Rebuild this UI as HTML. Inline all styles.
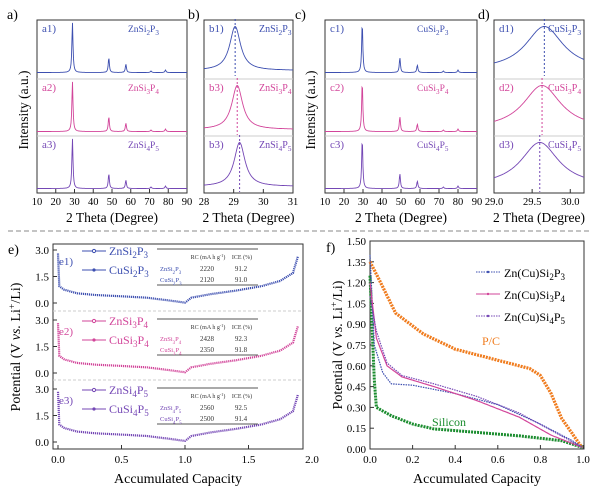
<!DOCTYPE html><html><head><meta charset="utf-8"><style>
body{margin:0;background:#fff}svg{display:block;font-family:"Liberation Serif",serif}
</style></head><body>
<svg id="s" width="600" height="491" viewBox="0 0 600 491"></svg>
<script>
// ---- data ----
const xrdPeaks=[28.9,48.3,57.4,70.8,78.5];
const xrdHeights=[1.0,0.3,0.17,0.03,0.05];
const cuPeaks=[29.6,49.4,58.6,72.3,80.0];
const cuHeights=[1.0,0.3,0.15,0.03,0.05];
const bCenters=[29.05,29.12,29.2];
const dCenters=[29.66,29.63,29.6];
const eCharge=[[0,2.8],[0.01,0.95],[0.05,0.75],[0.15,0.55],[0.3,0.45],[0.5,0.38],[0.7,0.3],[0.9,0.12],[1.0,0.02],[1.05,0.3],[1.2,0.5],[1.4,0.7],[1.6,0.95],[1.75,1.25],[1.85,1.7],[1.9,2.9]];
const fSi2=[[0,1.4],[0.02,0.75],[0.06,0.55],[0.1,0.47],[0.2,0.46],[0.4,0.4],[0.6,0.32],[0.8,0.18],[0.95,0.06],[1,0.01]];
const fSi3=[[0,1.2],[0.03,0.8],[0.08,0.6],[0.15,0.52],[0.3,0.45],[0.5,0.35],[0.7,0.23],[0.85,0.1],[1,0.01]];
const fSi4=[[0,1.1],[0.03,0.85],[0.08,0.62],[0.15,0.53],[0.3,0.47],[0.5,0.38],[0.7,0.26],[0.88,0.11],[1,0.01]];
const fPC=[[0,1.35],[0.05,1.2],[0.12,0.98],[0.25,0.83],[0.4,0.72],[0.55,0.66],[0.65,0.62],[0.75,0.58],[0.8,0.53],[0.85,0.4],[0.9,0.22],[1,0.0]];
const fSilicon=[[0,1.25],[0.02,0.5],[0.03,0.3],[0.1,0.24],[0.2,0.18],[0.3,0.145],[0.5,0.12],[0.7,0.095],[0.9,0.06],[1,0.01]];
const fTicks=["0.00","0.15","0.30","0.45","0.60","0.75","0.90","1.05","1.20","1.35","1.50"];
const C={b:"#3d4fb0",p:"#d2459a",v:"#7447b5",o:"#f07c1e",g:"#1a8c2e"};
// ---- helpers ----
const S=document.getElementById('s');const NS="http://www.w3.org/2000/svg";
function el(t,a,txt){const e=document.createElementNS(NS,t);for(const k in a)e.setAttribute(k,a[k]);if(txt!=null)e.innerHTML=txt;S.appendChild(e);return e;}
function tx(x,y,s,sz,anc,col,name){const e=el('text',{x:x,y:y,'font-size':sz,'text-anchor':anc||'middle',fill:col||'#000'},s);return e;}
function box(x0,y0,x1,y1,name){const e=el('rect',{x:x0,y:y0,width:x1-x0,height:y1-y0,fill:'none',stroke:'#333','stroke-width':1});}
function line(x0,y0,x1,y1,st,dash,name,w){const e=el('line',{x1:x0,y1:y0,x2:x1,y2:y1,stroke:st,'stroke-width':w||1,'stroke-dasharray':dash||''});}
function path(pts,col,w,name,dash){const d=pts.map((p,i)=>(i?'L':'M')+p[0].toFixed(1)+','+p[1].toFixed(1)).join('');const e=el('path',{d:d,fill:'none',stroke:col,'stroke-width':w,'stroke-dasharray':dash||''});}
function interp(arr,x){for(let i=1;i<arr.length;i++){if(x<=arr[i][0]){const a=arr[i-1],b=arr[i];return a[1]+(b[1]-a[1])*(x-a[0])/(b[0]-a[0]);}}return arr[arr.length-1][1];}
function xrd(x0,x1,d0,d1,peaks,hts,w,yb,yh,col,name){const pts=[];for(let px=x0;px<=x1;px+=0.5){const d=d0+(d1-d0)*(px-x0)/(x1-x0);let v=0.03;peaks.forEach((c,i)=>{v+=hts[i]/(1+((d-c)/w)**2);});pts.push([px,yb-v*yh]);}path(pts,col,0.9,name);}
function sub(s){let out='',sh=0;for(const c of s){const dg=/\d/.test(c);if(dg&&!sh){out+='<tspan dy="3" font-size="75%">'+c+'</tspan>';sh=1;}else if(dg){out+='<tspan font-size="75%">'+c+'</tspan>';}else if(sh){out+='<tspan dy="-3">'+c+'</tspan>';sh=0;}else out+=c;}return out;}
// ---- top XRD panels ----
function xrdPanel(x0,x1,d0,d1,ticks,tickLab,lab,names,mk,peaks,hts,w,narrow,centers,nameX){
 box(x0,20,x1,193,'panel-'+mk+'-frame');
 const sx=d=>x0+(x1-x0)*(d-d0)/(d1-d0);
 ticks.forEach((t,i)=>{line(sx(t),193,sx(t),189,'#333','','x-tick');tx(sx(t),205,tickLab[i],10.5,'middle','#000','x-tick-label');});
 tx((x0+x1)/2,222,'2 Theta (Degree)',13.5,'middle','#000','x-axis-title');
 tx(x0-(narrow?16:30),19,lab+')',14,'start','#000','panel-label');
 line(x0,79,x1,79,'#ccc','','separator');line(x0,136,x1,136,'#ccc','','separator');
 const cols=[C.b,C.p,C.v];const bases=[74,133,190];
 cols.forEach((c,i)=>{
  if(narrow){const pts=[];for(let px=x0;px<=x1;px+=0.5){const d=d0+(d1-d0)*(px-x0)/(x1-x0);const v=0.08+1/(1+((d-centers[i])/w)**2);pts.push([px,bases[i]-v*44]);}path(pts,c,0.9,'xrd-zoom-curve-'+(i+1));line(sx(centers[i]),bases[i]-55,sx(centers[i]),bases[i]+2,c,'2,2','peak-marker');}
  else xrd(x0,x1,d0,d1,peaks,hts,0.35,bases[i],50,c,'xrd-curve-'+(i+1));
  tx(x0+5,bases[i]-42,names[i][0],11,'start',c,'subpanel-label');
  tx(nameX,bases[i]-42,sub(names[i][1]),narrow?10:9.5,'start',c,'compound-name');
 });
}
xrdPanel(37,187,10,90,[10,20,30,40,50,60,70,80,90],['10','20','30','40','50','60','70','80','90'],'a',[['a1)','ZnSi2P3'],['a2)','ZnSi3P4'],['a3)','ZnSi4P5']],'a',xrdPeaks,xrdHeights,0.35,false,null,128);
xrdPanel(204,293,28,31,[28,29,30,31],['28','29','30','31'],'b',[['b1)','ZnSi2P3'],['b3)','ZnSi3P4'],['b3)','ZnSi4P5']],'b',null,null,0.22,true,bCenters,259);
xrdPanel(325,477,10,90,[10,20,30,40,50,60,70,80,90],['10','20','30','40','50','60','70','80','90'],'c',[['c1)','CuSi2P3'],['c2)','CuSi3P4'],['c3)','CuSi4P5']],'c',cuPeaks,cuHeights,0.35,false,null,417);
xrdPanel(494,584,29,30.18,[29,29.5,30],['29.0','29.5','30.0'],'d',[['d1)','CuSi2P3'],['d2)','CuSi3P4'],['d3)','CuSi4P5']],'d',null,null,0.3,true,dCenters,548);
let t=tx(0,0,'Intensity (a.u.)',13.5,'middle','#000','y-axis-title-a');t.setAttribute('transform','translate(28,110) rotate(-90)');
t=tx(0,0,'Intensity (a.u.)',13.5,'middle','#000','y-axis-title-c');t.setAttribute('transform','translate(315,110) rotate(-90)');
line(8,231,592,231,'#888','5,3','panel-divider');
// ---- panel e ----
box(53,244,303,449,'panel-e-frame');
const ex=v=>58+127*v;
[0,0.5,1,1.5,2].forEach(v=>{if(ex(v)<303)line(ex(v),449,ex(v),445,'#333','','x-tick');tx(ex(v),463,v.toFixed(1),11,'middle','#000','x-tick-label');});
tx(178,483,'Accumulated Capacity',14,'middle','#000','x-axis-title');
t=tx(0,0,'Potential (V <tspan font-style="italic">vs.</tspan> Li<tspan dy="-5" font-size="70%">+</tspan><tspan dy="5">/Li)</tspan>',14,'middle','#000','y-axis-title-e');t.setAttribute('transform','translate(20,347) rotate(-90)');
tx(8,254,'e)',14,'start','#000','panel-label');
line(53,311,303,311,'#ccc','3,2','separator');line(53,380,303,380,'#ccc','3,2','separator');
const eTop=[250,320,389];const ecol=[C.b,C.p,C.v];
const eNames=[['ZnSi2P3','CuSi2P3'],['ZnSi3P4','CuSi3P4'],['ZnSi4P5','CuSi4P5']];
const eRC=[[2220,2120],[2428,2350],[2560,2500]];const eICE=[['91.2','91.0'],['92.3','91.8'],['92.5','91.4']];
eTop.forEach((yt,i)=>{const sy=v=>yt+53*(3-v)/3;const c=ecol[i];
 [0,1.5,3].forEach(v=>{tx(49,sy(v)+4,v.toFixed(1),11,'end','#000','y-tick-label');line(53,sy(v),57,sy(v),'#333','','y-tick');});
 const pts=[];for(let x=0;x<=1.9;x+=0.01)pts.push([ex(x),sy(interp(eCharge,x)+(i*0.02))]);
 path(pts,c,2.2,'charge-curve-e'+(i+1),'1.2,0.8');
 tx(59,yt+15,'e'+(i+1)+')',11,'start',c,'subpanel-label');
 line(82,yt+1,106,yt+1,c,'','legend-line');el('circle',{cx:94,cy:yt+1,r:1.6,fill:'#fff',stroke:c});
 line(82,yt+20,106,yt+20,c,'','legend-line');el('circle',{cx:94,cy:yt+20,r:1.6,fill:c});
 tx(109,yt+5,sub(eNames[i][0]),12,'start',c,'legend-entry');tx(109,yt+24,sub(eNames[i][1]),12,'start',c,'legend-entry');
 line(157,yt-1,258,yt-1,'#555','','table-rule');line(157,yt+35,258,yt+35,'#555','','table-rule');
 tx(208,yt+9,'RC (mA h g<tspan dy="-2" font-size="70%">-1</tspan><tspan dy="2">)</tspan>',6,'middle','#333','table-header');tx(242,yt+9,'ICE (%)',6,'middle','#333','table-header');
 [0,1].forEach(r=>{tx(160,yt+21+r*11,sub(eNames[i][r]),6.5,'start',c,'table-cell');tx(207,yt+21+r*11,String(eRC[i][r]),7,'middle','#333','table-cell');tx(241,yt+21+r*11,eICE[i][r],7,'middle','#333','table-cell');});
});
// ---- panel f ----
box(370,241,584,449,'panel-f-frame');
const fx=v=>370+213*v, fy=v=>449-v*(208/1.5);
fTicks.forEach(s=>{const v=parseFloat(s);line(370,fy(v),374,fy(v),'#333','','y-tick');tx(366,fy(v)+4,s,11,'end','#000','y-tick-label');});
[0,0.2,0.4,0.6,0.8,1.0].forEach(v=>{line(fx(v),449,fx(v),445,'#333','','x-tick');tx(fx(v),463,v.toFixed(1),11,'middle','#000','x-tick-label');});
tx(477,483,'Accumulated Capacity',14,'middle','#000','x-axis-title');
t=tx(0,0,'Potential (V <tspan font-style="italic">vs.</tspan> Li<tspan dy="-5" font-size="70%">+</tspan><tspan dy="5">/Li)</tspan>',14,'middle','#000','y-axis-title-f');t.setAttribute('transform','translate(342,345) rotate(-90)');
tx(326,252,'f)',14,'start','#000','panel-label');
function fCurve(arr,col,w,name,dash){const pts=[];for(let x=0;x<=1;x+=0.005)pts.push([fx(x),fy(interp(arr,x))]);path(pts,col,w,name,dash);}
fCurve(fPC,C.o,3.2,'pc-curve','2,1');fCurve(fSilicon,C.g,3,'silicon-curve','2,1');
fCurve(fSi2,C.b,1.2,'si2p3-curve','1.5,1');fCurve(fSi3,C.p,1.2,'si3p4-curve');fCurve(fSi4,C.v,1.2,'si4p5-curve','1.5,1');
tx(482,345,'P/C',12,'start',C.o,'pc-label');tx(432,426,'Silicon',12,'start',C.g,'silicon-label');
[[C.b,'Zn(Cu)Si2P3'],[C.p,'Zn(Cu)Si3P4'],[C.v,'Zn(Cu)Si4P5']].forEach((l,i)=>{const y=272+22*i;line(476,y,500,y,l[0],i==1?'':'1.5,1','legend-line');el('circle',{cx:488,cy:y,r:1.2,fill:l[0]});tx(504,y+5,sub(l[1]),12,'start','#000','legend-entry');});
</script></body></html>
